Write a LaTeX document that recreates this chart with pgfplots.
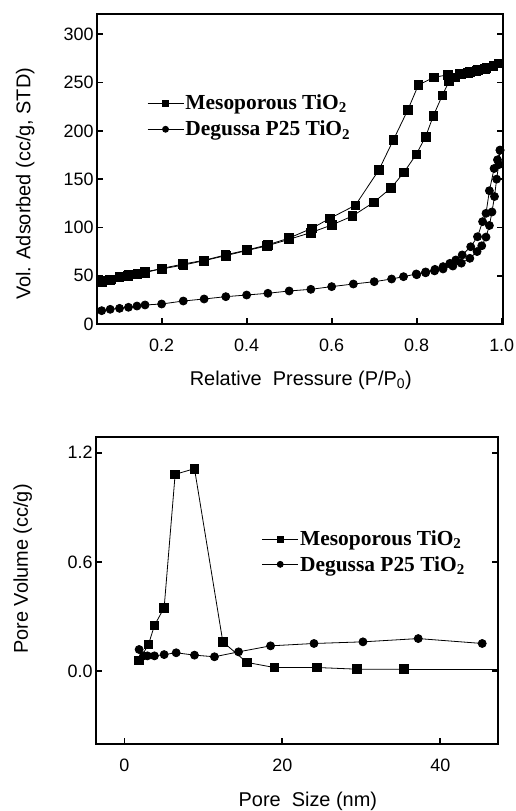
\documentclass[border=0pt]{standalone}
\usepackage{pgfplots}
\pgfplotsset{compat=1.18}
\usepackage{fontspec}
\setmainfont{Liberation Sans}
\newfontfamily\legfont{Liberation Serif}

\begin{document}
\begin{tikzpicture}
\useasboundingbox (0,0) rectangle (516bp,811bp);
\pgfplotsset{
  every axis/.append style={
    scale only axis,
    axis line style={line width=2.2bp},
    tick align=inside,
    major tick length=6bp,
    every tick/.style={black, line width=1.8bp},
    xtick pos=lower,
    ytick pos=both,
    /pgf/number format/assume math mode=true,
    tick label style={font=\fontsize{18}{21}\selectfont},
    label style={font=\fontsize{20}{24}\selectfont},
    xticklabel style={yshift=-11bp},
    legend style={draw=none, fill=none, font=\fontsize{21.5}{24}\selectfont\legfont\bfseries,
      row sep=7bp, inner sep=0pt, nodes={inner sep=1.5bp}},
    legend cell align=left,
    legend image code/.code={\draw[mark repeat=2,mark phase=2,##1,mark size=3bp] plot coordinates {(0bp,0bp)(18bp,0bp)(36bp,0bp)};},
  },
  sq/.style={black, line width=0.8bp, mark=square*, mark size=4.3bp, mark options={solid}},
  ci/.style={black, line width=0.8bp, mark=*, mark size=4bp, mark options={solid}},
}

% ---------------- top: isotherm ----------------
\begin{axis}[
  at={(97bp,487bp)}, anchor=south west,
  width=406bp, height=310bp,
  xmin=0.048, xmax=1.003, ymin=0, ymax=321,
  xtick={0.2,0.4,0.6,0.8,1.0},
  ytick={0,50,100,150,200,250,300},
  xticklabel style={/pgf/number format/.cd,fixed,fixed zerofill,precision=1},
  xlabel={Relative\ \ Pressure (P/P\textsubscript{0})},
  ylabel={Vol. Adsorbed (cc/g, STD)},
  xlabel style={at={(axis description cs:0.502,-0.181)}, anchor=center},
  ylabel style={at={(axis description cs:-0.177,0.452)}, anchor=center},
  legend style={at={(axis description cs:0.123,0.745)}, anchor=north west},
]
\addplot[sq] coordinates {
(0.059,44.5)(0.079,45.6)(0.101,49)(0.122,50.7)(0.143,51.8)(0.161,54.2)(0.200,57)
(0.251,61)(0.300,65.6)(0.351,70.8)(0.400,76)(0.447,80.8)(0.500,87.7)(0.551,94.6)
(0.600,102.5)(0.649,111.8)(0.699,126)(0.740,141)(0.770,157)(0.799,175.7)(0.821,194)
(0.839,215.4)(0.860,236.5)(0.876,251)(0.890,255.5)(0.905,259)(0.925,261)(0.944,263)
(0.964,265)(0.980,267)(0.994,270)};
\addlegendentry{Mesoporous TiO\textsubscript{2}}
\addplot[sq, forget plot] coordinates {
(0.994,270)(0.98,267)(0.96,264)(0.94,262)(0.92,260)(0.90,259)(0.874,258)(0.841,255.5)
(0.804,247.5)(0.779,221.6)(0.745,190.5)(0.711,159.5)(0.656,123)(0.596,109.4)(0.553,99)
(0.50,89)(0.45,82)(0.40,76.5)(0.35,71.5)(0.30,66)(0.25,62)(0.20,57.5)(0.16,53)(0.12,50)
(0.08,46)(0.06,43)};
\addplot[ci] coordinates {
(0.059,13.8)(0.079,15.2)(0.101,16.2)(0.122,17.3)(0.142,18.6)(0.161,19.7)(0.200,20.7)
(0.251,23.8)(0.300,25.9)(0.351,28.3)(0.400,30)(0.450,31.8)(0.500,34.2)(0.551,35.9)
(0.600,38.7)(0.651,41.4)(0.700,43.8)(0.741,46.6)(0.769,49)(0.799,51.8)(0.821,53.9)
(0.843,56.6)(0.862,59.4)(0.878,62.8)(0.892,66.3)(0.907,71.5)(0.927,80)(0.943,90.4)
(0.955,106)(0.963,114.6)(0.971,138)(0.982,161)(0.990,170)(0.996,180)};
\addlegendentry{Degussa P25 TiO\textsubscript{2}}
\addplot[ci, forget plot] coordinates {
(0.996,180)(0.993,165)(0.988,150)(0.983,132)(0.977,116)(0.971,102)(0.963,90)(0.953,81)
(0.942,75)(0.925,68)(0.905,63)(0.885,60)(0.862,57)(0.842,55)(0.821,53)(0.800,51)};
\end{axis}

% ---------------- bottom: pore size distribution ----------------
\begin{axis}[
  at={(96bp,67bp)}, anchor=south west,
  width=402bp, height=307bp,
  xmin=-3.6, xmax=47.3, ymin=-0.40, ymax=1.286,
  xtick={0,20,40},
  ytick={0,0.6,1.2},
  yticklabel style={/pgf/number format/.cd,fixed,fixed zerofill,precision=1},
  xlabel={Pore\ \ Size (nm)},
  ylabel={Pore Volume (cc/g)},
  xlabel style={at={(axis description cs:0.527,-0.186)}, anchor=center},
  ylabel style={at={(axis description cs:-0.182,0.570)}, anchor=center},
  legend style={at={(axis description cs:0.412,0.700)}, anchor=north west, row sep=6bp},
]
\addplot[sq] coordinates {
(1.86,0.060)(3.04,0.146)(3.80,0.251)(5.03,0.349)(6.42,1.081)(8.87,1.112)(12.46,0.161)
(15.5,0.048)(19.0,0.020)(24.4,0.020)(29.4,0.011)(35.4,0.011)};
\addlegendentry{Mesoporous TiO\textsubscript{2}}
\addplot[black, line width=0.8bp, forget plot] coordinates {(35.4,0.011)(60,0.011)};
\addplot[ci] coordinates {
(1.86,0.119)(2.41,0.084)(2.91,0.084)(3.80,0.084)(5.03,0.091)(6.55,0.101)(8.87,0.088)
(11.4,0.079)(14.45,0.106)(18.5,0.139)(24.0,0.152)(30.2,0.161)(37.2,0.179)(45.3,0.152)};
\addlegendentry{Degussa P25 TiO\textsubscript{2}}
\end{axis}
\end{tikzpicture}
\end{document}
